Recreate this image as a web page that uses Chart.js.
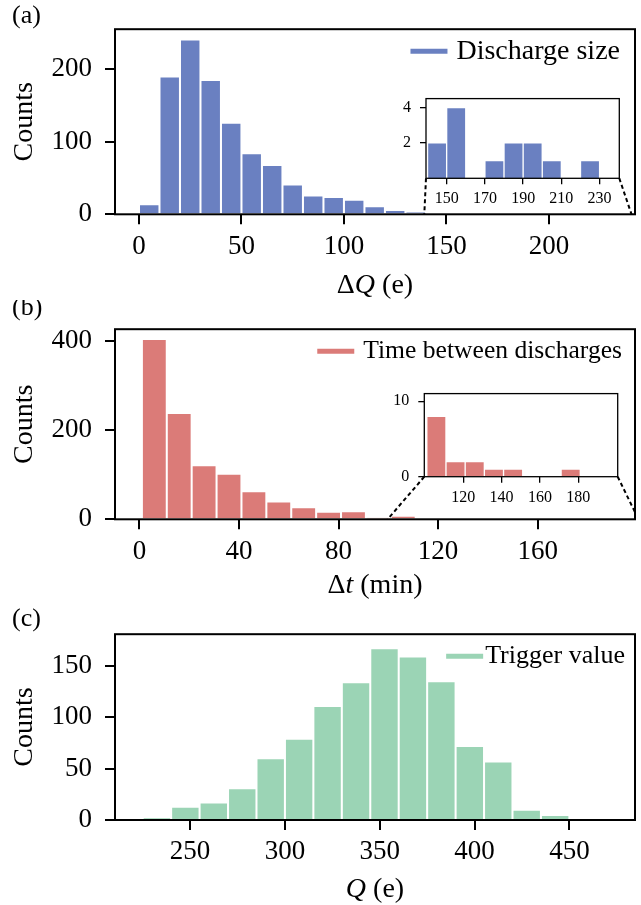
<!DOCTYPE html>
<html>
<head>
<meta charset="utf-8">
<script src="https://cdn.jsdelivr.net/npm/chart.js@4.4.0/dist/chart.umd.min.js"></script>
<style>
  body { margin: 0; background: #fff; }
  #fig { position: relative; width: 641px; height: 905px; }
  #fig canvas { position: absolute; }
</style>
</head>
<body>
<div id="fig">
  <canvas id="chartA" width="641" height="300" style="left:0px;top:0px"></canvas>
  <canvas id="chartB" width="641" height="305" style="left:0px;top:300px"></canvas>
  <canvas id="chartC" width="641" height="300" style="left:0px;top:605px"></canvas>
  <canvas id="insetA" width="261" height="135" style="left:380px;top:80px"></canvas>
  <canvas id="insetB" width="261" height="135" style="left:380px;top:375px"></canvas>
</div>
<script>
// (a) discharge size, 10 e bins (bin centres)
const sizeBins = [5, 15, 25, 35, 45, 55, 65, 75, 85, 95, 105, 115, 125, 135];
const sizeCounts = [14, 190, 241, 185, 126, 84, 68, 41, 26, 24, 20, 11, 6, 3];
const sizeTicks = [0, 50, 100, 150, 200];
const sizeCountTicks = [0, 100, 200];
// tail of the size distribution, shown in the inset
const sizeTailBins = [145, 155, 175, 185, 195, 205, 225];
const sizeTailCounts = [2, 4, 1, 2, 2, 1, 1];
const sizeTailTicks = [150, 170, 190, 210, 230];
const sizeTailCountTicks = [2, 4];

// (b) waiting time between discharges, 10 min bins
const waitBins = [6, 16, 26, 36, 46, 56, 66, 76, 86, 96, 106];
const waitCounts = [404, 238, 121, 102, 63, 40, 27, 17, 18, 3, 8];
const waitTicks = [0, 40, 80, 120, 160];
const waitCountTicks = [0, 200, 400];
const waitTailBins = [106, 116, 126, 136, 146, 176];
const waitTailCounts = [8, 2, 2, 1, 1, 1];
const waitTailTicks = [120, 140, 160, 180];
const waitTailCountTicks = [0, 10];

// (c) charge at which a discharge is triggered, 15 e bins
const triggerBins = [232.5, 247.5, 262.5, 277.5, 292.5, 307.5, 322.5, 337.5, 352.5, 367.5, 382.5, 397.5, 412.5, 427.5, 442.5];
const triggerCounts = [2, 13, 17, 31, 60, 79, 111, 134, 167, 159, 135, 72, 57, 10, 5];
const triggerTicks = [250, 300, 350, 400, 450];
const triggerCountTicks = [0, 50, 100, 150];

const BLUE = '#6a80c1';
const RED = '#db7b78';
const GREEN = '#9bd4b5';
const SERIF = "'Liberation Serif', 'Times New Roman', serif";

Chart.defaults.font.family = SERIF;
Chart.defaults.color = '#000';
Chart.defaults.animation = false;

function pinTicks(values) {
  return scale => { scale.ticks = values.map(v => ({ value: v })); };
}

// closed box round the plot area (all four spines)
function framePlugin(width, fill) {
  return {
    id: 'frame',
    beforeDraw(chart) {
      if (!fill) return;
      const { ctx, chartArea: a } = chart;
      ctx.save();
      ctx.fillStyle = '#fff';
      ctx.fillRect(a.left, a.top, a.right - a.left, a.bottom - a.top);
      ctx.restore();
    },
    afterDraw(chart) {
      const { ctx, chartArea: a } = chart;
      ctx.save();
      ctx.strokeStyle = '#000';
      ctx.lineWidth = width;
      ctx.strokeRect(a.left, a.top, a.right - a.left, a.bottom - a.top);
      ctx.restore();
    }
  };
}

function letterPlugin(text, x, y) {
  return {
    id: 'letter',
    afterDraw(chart) {
      const ctx = chart.ctx;
      ctx.save();
      ctx.font = `26px ${SERIF}`;
      ctx.fillStyle = '#000';
      ctx.textAlign = 'left';
      ctx.textBaseline = 'middle';
      ctx.fillText(text, x, y);
      ctx.restore();
    }
  };
}

// legend in the upper right corner: a short thick line, then the text
function legendPlugin(text, color, opt) {
  return {
    id: 'cornerLegend',
    afterDraw(chart) {
      const { ctx, chartArea: a } = chart;
      ctx.save();
      ctx.font = `${opt.size}px ${SERIF}`;
      const tw = ctx.measureText(text).width;
      const right = a.right - opt.right;
      const y = a.top + opt.down;
      const x1 = right - tw - opt.gap;
      ctx.strokeStyle = color;
      ctx.lineWidth = 5;
      ctx.beginPath();
      ctx.moveTo(x1 - 37, y);
      ctx.lineTo(x1, y);
      ctx.stroke();
      ctx.fillStyle = '#000';
      ctx.textAlign = 'left';
      ctx.textBaseline = 'middle';
      ctx.fillText(text, right - tw, y);
      ctx.restore();
    }
  };
}

// x-axis label made of plain and italic pieces, centred under the plot
function xLabelPlugin(parts, gap, size) {
  return {
    id: 'xlabel',
    afterDraw(chart) {
      const { ctx, chartArea: a } = chart;
      const fonts = parts.map(p => `${p.italic ? 'italic ' : ''}${size}px ${SERIF}`);
      let total = 0;
      const widths = parts.map((p, i) => {
        ctx.font = fonts[i];
        const w = ctx.measureText(p.text).width;
        total += w;
        return w;
      });
      let x = (a.left + a.right) / 2 - total / 2;
      const y = a.bottom + gap;
      ctx.save();
      ctx.fillStyle = '#000';
      ctx.textAlign = 'left';
      ctx.textBaseline = 'middle';
      parts.forEach((p, i) => {
        ctx.font = fonts[i];
        ctx.fillText(p.text, x, y);
        x += widths[i];
      });
      ctx.restore();
    }
  };
}

// dashed lines from the inset's lower corners down to the zoomed range on the main axis
function linksPlugin(getInset, from, to) {
  return {
    id: 'links',
    afterDraw(chart) {
      const inset = getInset();
      if (!inset) return;
      const { ctx, chartArea: a, scales } = chart;
      const ia = inset.chartArea;
      const dx = inset.canvas.offsetLeft - chart.canvas.offsetLeft;
      const dy = inset.canvas.offsetTop - chart.canvas.offsetTop;
      const base = scales.y.getPixelForValue(0);
      ctx.save();
      ctx.beginPath();
      ctx.rect(a.left, a.top, a.right - a.left, a.bottom - a.top);
      ctx.clip();
      ctx.setLineDash([4, 3]);
      ctx.lineWidth = 2;
      ctx.strokeStyle = '#000';
      ctx.beginPath();
      ctx.moveTo(ia.left + dx, ia.bottom + dy);
      ctx.lineTo(scales.x.getPixelForValue(from), base);
      ctx.moveTo(ia.right + dx, ia.bottom + dy);
      ctx.lineTo(scales.x.getPixelForValue(to), base);
      ctx.stroke();
      ctx.restore();
    }
  };
}

function histogram(canvasId, s) {
  const canvas = document.getElementById(canvasId);
  const W = canvas.width, H = canvas.height;
  const a = s.area;
  const plugins = [framePlugin(s.spine, s.inset)];
  if (s.letter) plugins.push(letterPlugin(s.letter, s.letterX, s.letterY));
  if (s.xLabel) plugins.push(xLabelPlugin(s.xLabel, s.xLabelGap, 28));
  if (s.legend) plugins.push(legendPlugin(s.legend, s.color, s.legendAt));
  if (s.links) plugins.push(s.links);

  const axisLines = { display: true, drawOnChartArea: false, drawTicks: true, tickLength: s.tickLen, color: '#000', lineWidth: s.spine };

  return new Chart(canvas, {
    type: 'bar',
    data: {
      datasets: [{
        label: s.legend || '',
        data: s.bins.map((b, i) => ({ x: b, y: s.counts[i] })),
        backgroundColor: s.color,
        borderColor: '#fff',
        borderWidth: s.edge,
        borderSkipped: 'start',
        barPercentage: 1,
        categoryPercentage: 1
      }]
    },
    options: {
      responsive: false,
      animation: false,
      layout: { padding: { left: 0, top: a.top, right: W - a.right, bottom: 0 } },
      plugins: {
        tooltip: { enabled: false },
        legend: { display: false }
      },
      scales: {
        x: {
          type: 'linear',
          offset: false,
          min: s.xRange[0],
          max: s.xRange[1],
          afterBuildTicks: pinTicks(s.xTicks),
          afterFit: scale => { scale.height = H - a.bottom; },
          grid: { ...axisLines, offset: false },
          border: { display: false },
          ticks: { font: { size: s.tickSize }, padding: s.xPad, maxRotation: 0, autoSkip: false }
        },
        y: {
          min: 0,
          max: s.yMax,
          afterBuildTicks: pinTicks(s.yTicks),
          afterFit: scale => { scale.width = a.left; },
          grid: axisLines,
          border: { display: false },
          ticks: { font: { size: s.tickSize }, padding: s.yPad, autoSkip: false },
          title: s.yTitle ? { display: true, text: s.yTitle, font: { size: 28 }, padding: { top: 8, bottom: 0 } } : { display: false }
        }
      }
    },
    plugins
  });
}

const mainStyle = { spine: 2, tickLen: 10, tickSize: 27, xPad: 6, yPad: 13, edge: 1.35, yTitle: 'Counts', xLabelGap: 71 };
const insetStyle = { inset: true, spine: 1.3, tickLen: 6, tickSize: 16, xPad: 5, yPad: 9, edge: 1 };

const insetA = histogram('insetA', {
  ...insetStyle,
  area: { left: 46, top: 13.3, right: 239.3, bottom: 98.3 },
  bins: sizeTailBins, counts: sizeTailCounts, color: BLUE,
  xRange: [139.2, 240.3], xTicks: sizeTailTicks,
  yMax: 4.5, yTicks: sizeTailCountTicks
});

const insetB = histogram('insetB', {
  ...insetStyle,
  area: { left: 44.3, top: 12.7, right: 237.7, bottom: 101.7 },
  bins: waitTailBins, counts: waitTailCounts, color: RED,
  xRange: [99.7, 200.5], xTicks: waitTailTicks,
  yMax: 11, yTicks: waitTailCountTicks
});

histogram('chartA', {
  ...mainStyle,
  area: { left: 115, top: 11, right: 635, bottom: 214.3 },
  bins: sizeBins, counts: sizeCounts, color: BLUE,
  xRange: [-11.7, 242], xTicks: sizeTicks,
  yMax: 255, yTicks: sizeCountTicks,
  legend: 'Discharge size', legendAt: { size: 28, right: 15, down: 22, gap: 9 },
  letter: '(a)', letterX: 12, letterY: 16,
  xLabel: [{ text: 'Δ' }, { text: 'Q', italic: true }, { text: ' (e)' }],
  links: linksPlugin(() => insetA, 139.2, 240.3)
});

histogram('chartB', {
  ...mainStyle,
  area: { left: 115, top: 15, right: 635, bottom: 219.3 },
  bins: waitBins, counts: waitCounts, color: RED,
  xRange: [-9.8, 199.1], xTicks: waitTicks,
  yMax: 426, yTicks: waitCountTicks,
  legend: 'Time between discharges', legendAt: { size: 25.6, right: 13, down: 22, gap: 9 },
  letter: '(b)', letterX: 12, letterY: 8,
  xLabel: [{ text: 'Δ' }, { text: 't', italic: true }, { text: ' (min)' }],
  xLabelGap: 66,
  links: linksPlugin(() => insetB, 99.7, 200.5)
});

histogram('chartC', {
  ...mainStyle,
  area: { left: 115, top: 11, right: 635, bottom: 215 },
  bins: triggerBins, counts: triggerCounts, color: GREEN,
  xRange: [210.4, 484.6], xTicks: triggerTicks,
  yMax: 180.7, yTicks: triggerCountTicks,
  legend: 'Trigger value', legendAt: { size: 26, right: 10, down: 22, gap: 2 },
  letter: '(c)', letterX: 12, letterY: 14,
  xLabel: [{ text: 'Q', italic: true }, { text: ' (e)' }],
  xLabelGap: 70
});
</script>
</body>
</html>
